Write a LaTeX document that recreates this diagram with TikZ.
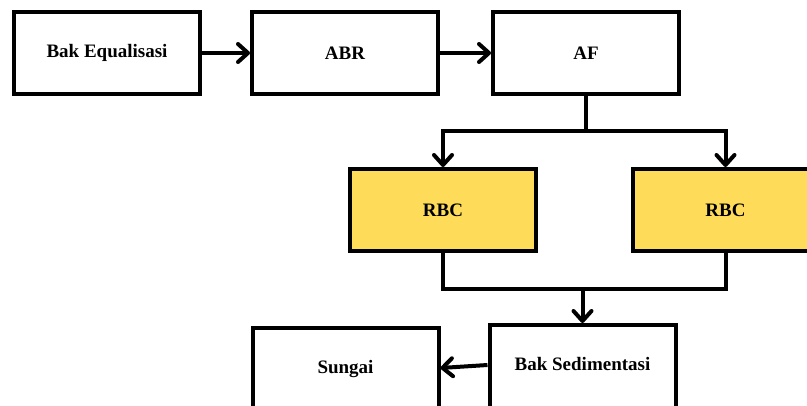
\documentclass[tikz,border=0pt]{standalone}
\usepackage{fontspec}
\setmainfont{Liberation Serif}
\usetikzlibrary{arrows.meta,calc}
\definecolor{rbcfill}{HTML}{FEDC5A}
\tikzset{
  box/.style={draw=black, line width=4pt, fill=white, minimum width=186pt, minimum height=82pt, inner sep=0pt,
    font=\fontsize{19}{22}\selectfont\bfseries},
  rbc/.style={box, fill=rbcfill},
  lowbox/.style={box, minimum height=90pt, text height=13pt, text depth=13pt},
  link/.style={line width=4pt},
  arr/.style={link, -{Straight Barb[length=10pt,width=18pt,round]}}
}
\begin{document}
\begin{tikzpicture}[x=1pt,y=-1pt]
\useasboundingbox (0,0) rectangle (807,405);
\clip (0,0) rectangle (807,405);
\node[box] (b1) at (107,53) {Bak Equalisasi};
\node[box] (b2) at (345,53) {ABR};
\node[box] (b3) at (586,53) {AF};
\node[rbc] (r1) at (443,210) {RBC};
\node[rbc] (r2) at (725.5,210) {RBC};
\node[lowbox] (bs) at (582.5,370) {Bak Sedimentasi};
\node[lowbox] (s) at (345.5,373) {Sungai};
\coordinate (split) at (586,131);
\coordinate (join) at (582.5,289);
\draw[arr] (b1.east) -- (b2.west);
\draw[arr] (b2.east) -- (b3.west);
\draw[link] (b3.south) -- (split);
\draw[arr] (split) -| (r1.north);
\draw[arr] (split) -| (r2.north);
\draw[link] (r1.south) |- (join);
\draw[link] (r2.south) |- (join);
\draw[arr] (join) -- (bs.north);
\draw[arr] ($(bs.west)+(0,-5)$) -- ($(s.east)+(0,-5)$);
\end{tikzpicture}
\end{document}
